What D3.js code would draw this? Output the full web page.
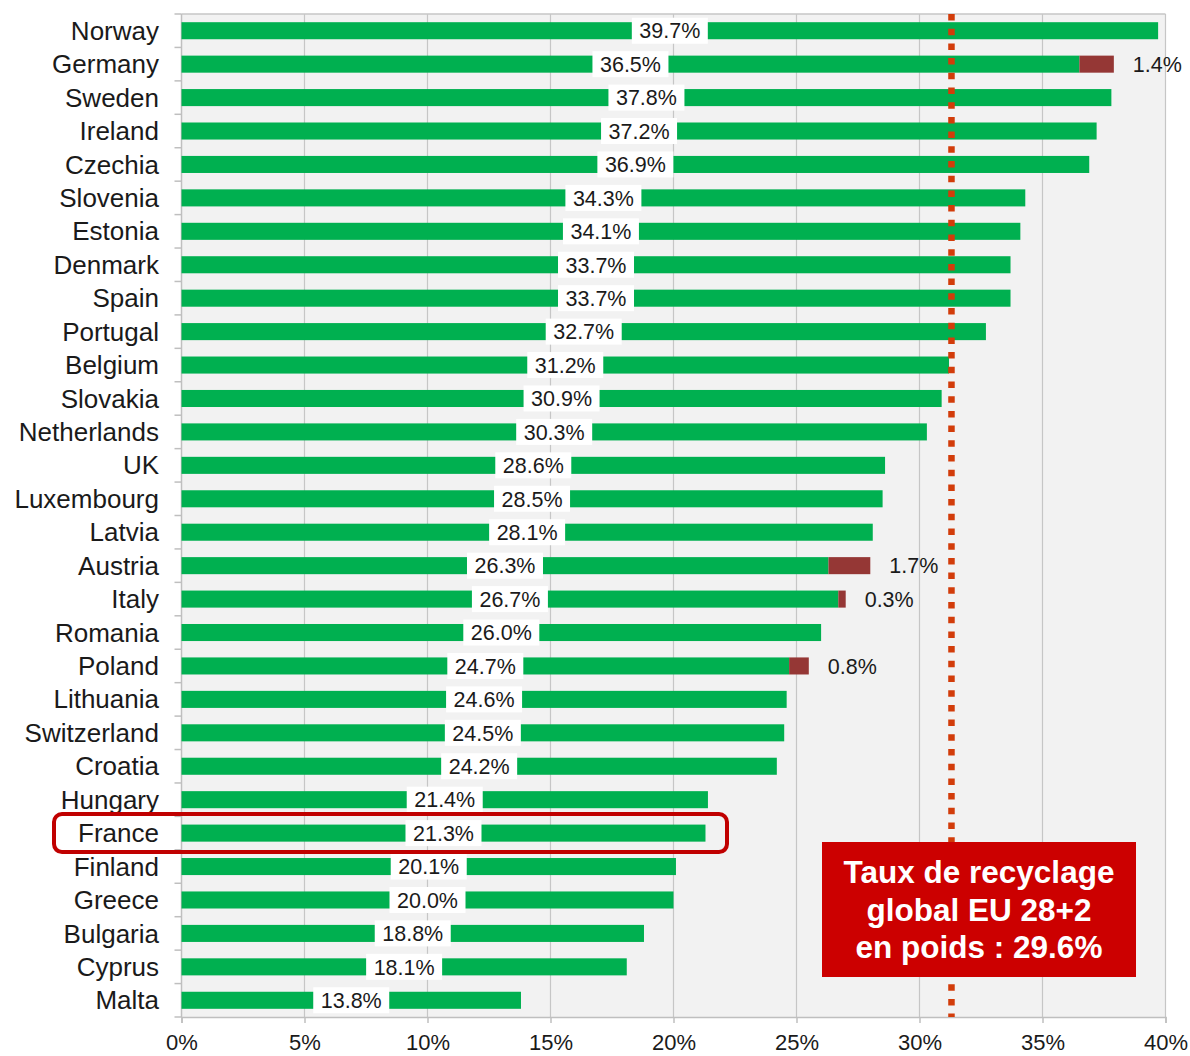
<!DOCTYPE html>
<html><head><meta charset="utf-8">
<script src="https://cdn.jsdelivr.net/npm/d3@7"></script>
<style>body{margin:0;background:#fff;}svg{display:block;font-family:"Liberation Sans",Arial,sans-serif;}</style>
</head><body><svg id="c" width="1190" height="1056"></svg>
<script>
const countries = ["Norway","Germany","Sweden","Ireland","Czechia","Slovenia","Estonia","Denmark","Spain","Portugal","Belgium","Slovakia","Netherlands","UK","Luxembourg","Latvia","Austria","Italy","Romania","Poland","Lithuania","Switzerland","Croatia","Hungary","France","Finland","Greece","Bulgaria","Cyprus","Malta"];
const recycled = [39.7,36.5,37.8,37.2,36.9,34.3,34.1,33.7,33.7,32.7,31.2,30.9,30.3,28.6,28.5,28.1,26.3,26.7,26.0,24.7,24.6,24.5,24.2,21.4,21.3,20.1,20.0,18.8,18.1,13.8];
const extra = [0,1.4,0,0,0,0,0,0,0,0,0,0,0,0,0,0,1.7,0.3,0,0.8,0,0,0,0,0,0,0,0,0,0];
const xTicks = [0,5,10,15,20,25,30,35,40];
const avgLine = 31.3;
const highlighted = "France";
const boxLines = ["Taux de recyclage","global EU 28+2","en poids : 29.6%"];

const svg = d3.select("#c");
const L=181.5, R=1165.5, T=14, B=1017;
const x = d3.scaleLinear().domain([0,40]).range([L,R]);
const y = d3.scaleBand().domain(countries).range([T,B]).paddingInner(0.49).paddingOuter(0.245);
const yb = d3.scaleBand().domain(countries).range([T,B]);

svg.append("rect").attr("x",L).attr("y",T).attr("width",R-L).attr("height",B-T).attr("fill","#f2f2f2");
svg.append("g").selectAll("line").data(xTicks.slice(1)).join("line")
  .attr("x1",d=>x(d)).attr("x2",d=>x(d)).attr("y1",T).attr("y2",B)
  .attr("stroke","#c6c6c6").attr("stroke-width",1.2);
svg.append("line").attr("x1",L).attr("x2",R).attr("y1",T).attr("y2",T).attr("stroke","#c6c6c6").attr("stroke-width",1.5);

// x axis
const xa = svg.append("g").attr("transform",`translate(0,${B})`)
  .call(d3.axisBottom(x).tickValues(xTicks).tickFormat(d=>d+"%").tickSize(6).tickPadding(7));
xa.select(".domain").attr("stroke","#bfbfbf").attr("stroke-width",1.5);
xa.selectAll(".tick line").attr("stroke","#bfbfbf").attr("stroke-width",1.5);
xa.selectAll("text").attr("font-size",22).attr("fill","#1a1a1a").attr("font-family","Liberation Sans, Arial, sans-serif").attr("dy","0.9em");

// y axis line and ticks between categories
svg.append("line").attr("x1",L).attr("x2",L).attr("y1",T).attr("y2",B).attr("stroke","#bfbfbf").attr("stroke-width",1.5);
svg.append("g").selectAll("line").data(countries.concat(["__end"])).join("line")
  .attr("x1",L-7).attr("x2",L)
  .attr("y1",(d,i)=> i<countries.length ? yb(d) : B)
  .attr("y2",(d,i)=> i<countries.length ? yb(d) : B)
  .attr("stroke","#bfbfbf").attr("stroke-width",1.5);
svg.append("g").selectAll("text").data(countries).join("text")
  .attr("x",159).attr("y",d=>yb(d)+yb.bandwidth()/2).attr("dy","0.35em")
  .attr("text-anchor","end").attr("font-size",26).attr("fill","#1a1a1a").text(d=>d);

// bars
const bars = svg.append("g");
bars.selectAll("rect.g").data(countries).join("rect").attr("class","g")
  .attr("x",x(0)).attr("y",d=>y(d)).attr("height",y.bandwidth())
  .attr("width",(d,i)=>x(recycled[i])-x(0)).attr("fill","#00b050");
bars.selectAll("rect.r").data(countries.filter((d,i)=>extra[i]>0)).join("rect").attr("class","r")
  .attr("x",d=>x(recycled[countries.indexOf(d)])).attr("y",d=>y(d)).attr("height",y.bandwidth())
  .attr("width",d=>x(extra[countries.indexOf(d)])-x(0)).attr("fill","#953735");

// dotted average line
svg.append("line").attr("x1",x(avgLine)).attr("x2",x(avgLine)).attr("y1",T).attr("y2",B)
  .attr("stroke","#d23c0a").attr("stroke-width",6.5).attr("stroke-dasharray","6.5 8.2");

// value labels
const lab = svg.append("g").selectAll("g").data(countries).join("g")
  .attr("transform",(d,i)=>`translate(${(x(0)+x(recycled[i]))/2},${yb(d)+yb.bandwidth()/2})`);
lab.append("rect").attr("x",-38).attr("y",-13).attr("width",76).attr("height",26).attr("fill","#fff");
lab.append("text").attr("text-anchor","middle").attr("dy","0.36em").attr("font-size",21.5).attr("fill","#1a1a1a")
  .text((d,i)=>recycled[i].toFixed(1)+"%");

// extra labels
svg.append("g").selectAll("text").data(countries.filter((d,i)=>extra[i]>0)).join("text")
  .attr("x",d=>{const i=countries.indexOf(d);return x(recycled[i]+extra[i])+19;})
  .attr("y",d=>yb(d)+yb.bandwidth()/2).attr("dy","0.36em")
  .attr("font-size",21.5).attr("fill","#1a1a1a").text(d=>extra[countries.indexOf(d)].toFixed(1)+"%");

// France highlight
svg.append("rect").attr("x",54).attr("y",yb(highlighted)+yb.bandwidth()/2-19).attr("width",673).attr("height",38)
  .attr("rx",8).attr("fill","none").attr("stroke","#c00000").attr("stroke-width",4);

// info box
svg.append("rect").attr("x",822).attr("y",842).attr("width",314).attr("height",135).attr("fill","#cc0000");
svg.append("g").selectAll("text").data(boxLines).join("text")
  .attr("x",979).attr("y",(d,i)=>883+i*37.5).attr("text-anchor","middle")
  .attr("font-size",31.5).attr("font-weight","bold").attr("fill","#fff").text(d=>d);
</script></body></html>
